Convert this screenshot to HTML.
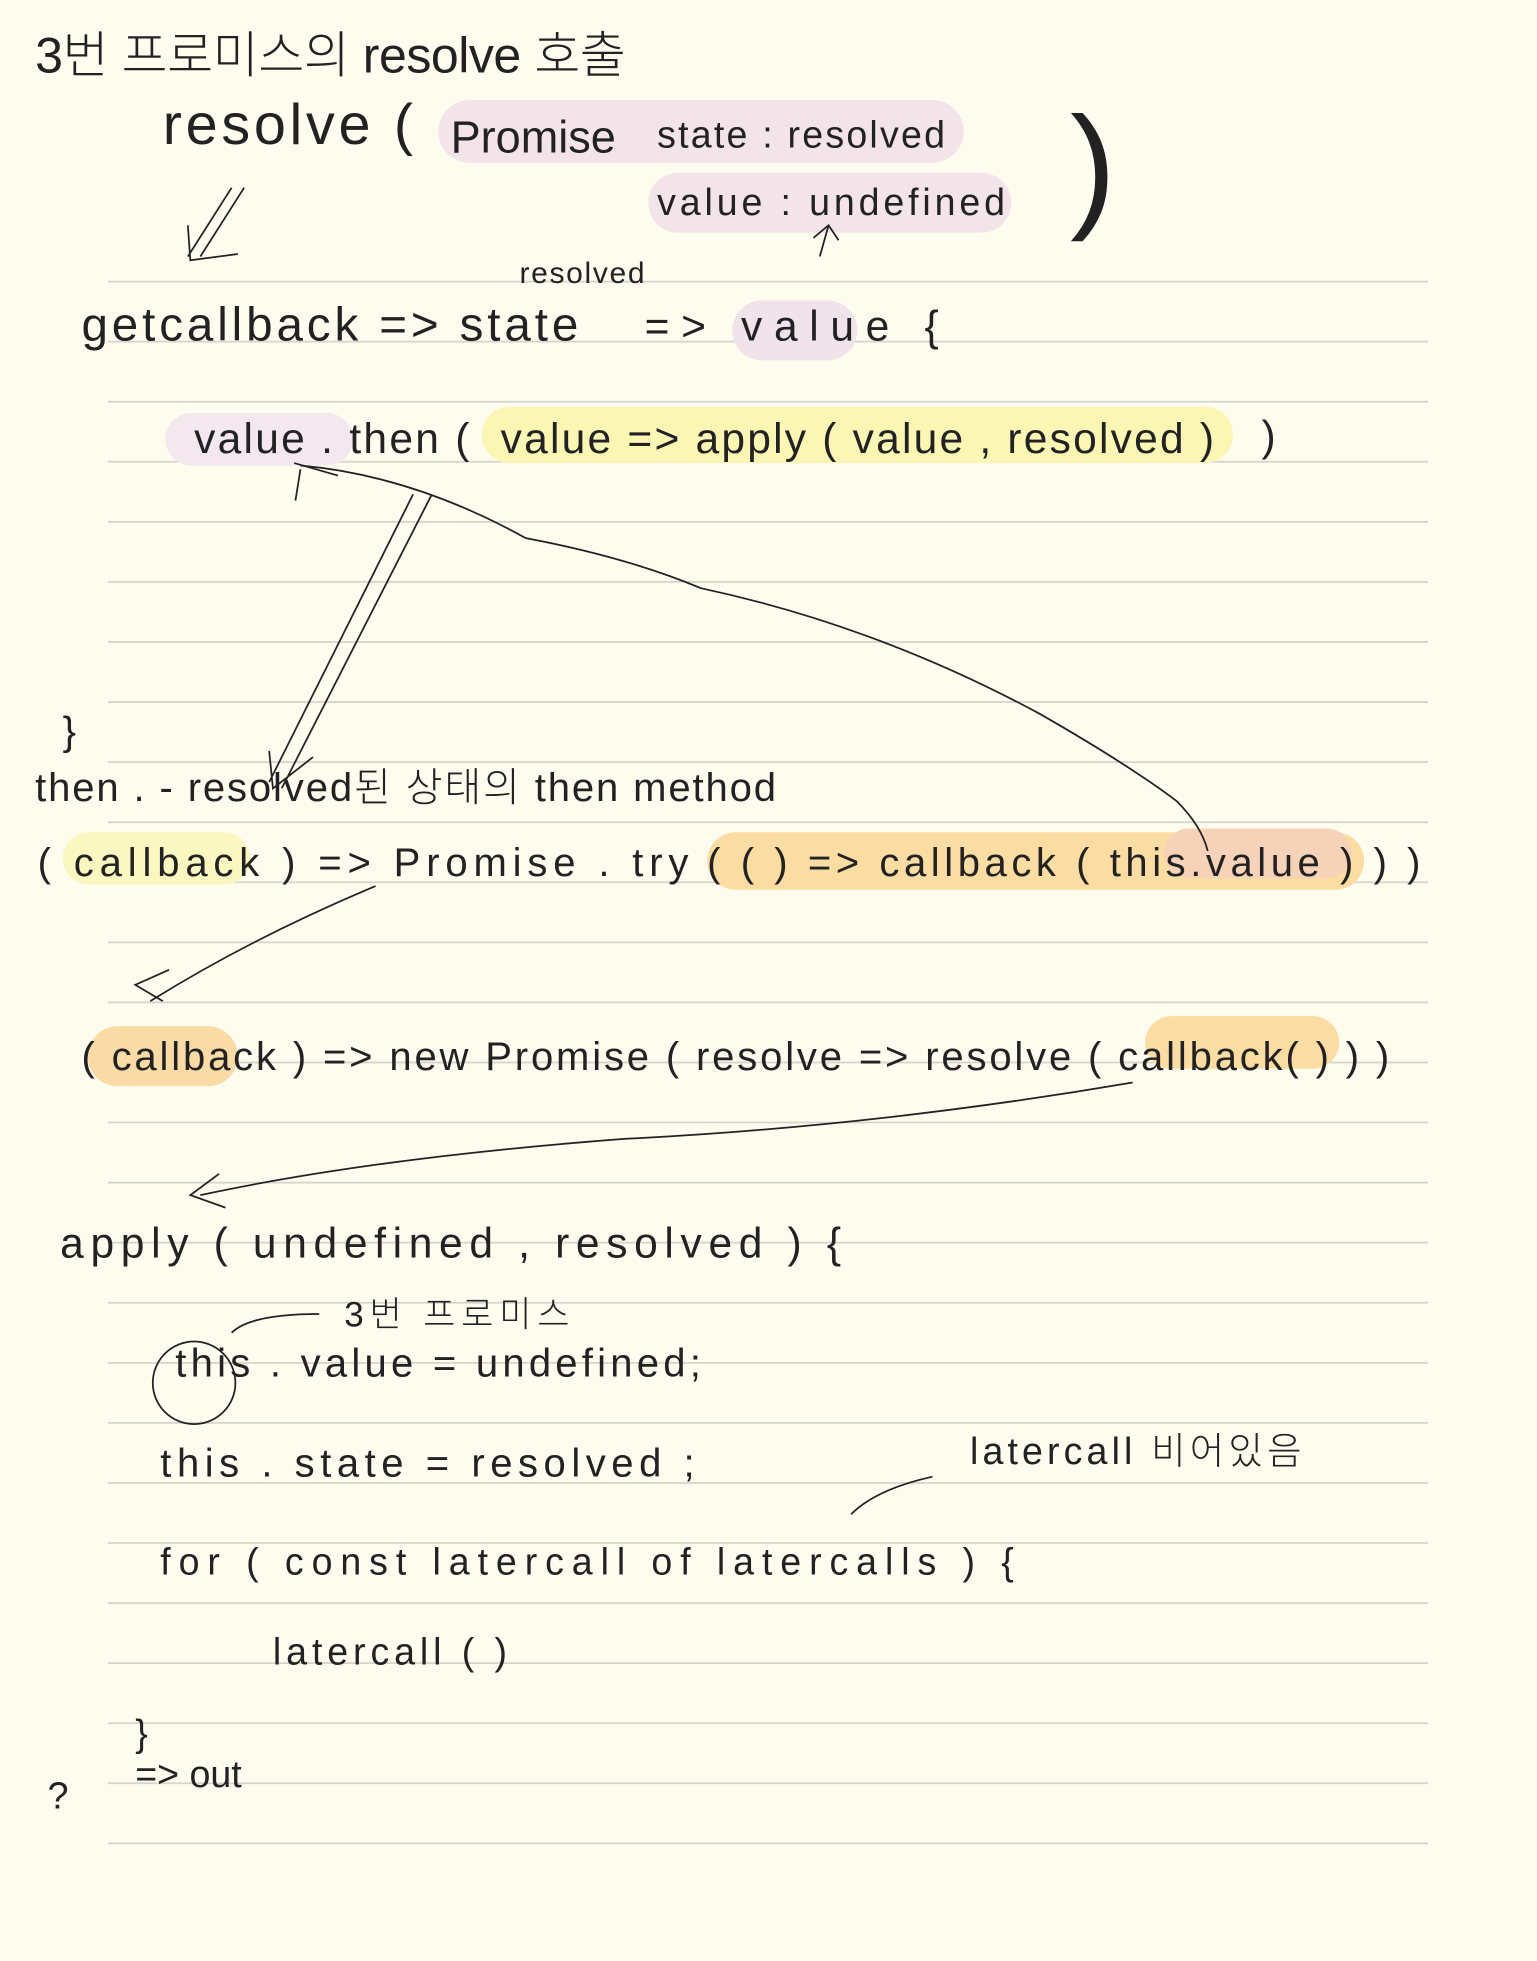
<!DOCTYPE html>
<html><head><meta charset="utf-8"><style>
html,body{margin:0;padding:0;background:#fefcef;}
svg{display:block;}
text{font-family:"Liberation Sans","Noto Sans CJK KR",sans-serif;fill:#222;font-weight:300;}
</style></head><body>
<svg width="1537" height="1961" viewBox="0 0 1228 1567" xmlns="http://www.w3.org/2000/svg">
<rect width="1228" height="1567" fill="#fefcef"/>
<g stroke="#d6d4ca" stroke-width="1.4">
<line x1="86" y1="225" x2="1141" y2="225"/><line x1="86" y1="273" x2="1141" y2="273"/>
<line x1="86" y1="321" x2="1141" y2="321"/><line x1="86" y1="369" x2="1141" y2="369"/>
<line x1="86" y1="417" x2="1141" y2="417"/><line x1="86" y1="465" x2="1141" y2="465"/>
<line x1="86" y1="513" x2="1141" y2="513"/><line x1="86" y1="561" x2="1141" y2="561"/>
<line x1="86" y1="609" x2="1141" y2="609"/><line x1="86" y1="657" x2="1141" y2="657"/>
<line x1="86" y1="705" x2="1141" y2="705"/><line x1="86" y1="753" x2="1141" y2="753"/>
<line x1="86" y1="801" x2="1141" y2="801"/><line x1="86" y1="849" x2="1141" y2="849"/>
<line x1="86" y1="897" x2="1141" y2="897"/><line x1="86" y1="945" x2="1141" y2="945"/>
<line x1="86" y1="993" x2="1141" y2="993"/><line x1="86" y1="1041" x2="1141" y2="1041"/>
<line x1="86" y1="1089" x2="1141" y2="1089"/><line x1="86" y1="1137" x2="1141" y2="1137"/>
<line x1="86" y1="1185" x2="1141" y2="1185"/><line x1="86" y1="1233" x2="1141" y2="1233"/>
<line x1="86" y1="1281" x2="1141" y2="1281"/><line x1="86" y1="1329" x2="1141" y2="1329"/>
<line x1="86" y1="1377" x2="1141" y2="1377"/><line x1="86" y1="1425" x2="1141" y2="1425"/>
<line x1="86" y1="1473" x2="1141" y2="1473"/>
</g>
<g>
<rect x="350" y="80" width="420" height="50" rx="25" fill="#f3e4ea"/>
<rect x="518" y="138" width="290" height="48" rx="24" fill="#f3e4ea"/>
<rect x="585" y="240" width="100" height="48" rx="24" fill="#f1e3ea"/>
<rect x="132" y="330" width="150" height="42" rx="21" fill="#f3e8ee"/>
<rect x="385" y="325" width="600" height="45" rx="22" fill="#fbf6b4"/>
<rect x="50" y="665" width="150" height="42" rx="21" fill="#fbf7c0"/>
<rect x="565" y="665" width="525" height="46" rx="23" fill="#fbdca2"/>
<rect x="930" y="662" width="150" height="40" rx="20" fill="#f6d3b8"/>
<rect x="70" y="820" width="120" height="48" rx="24" fill="#fbdba5"/>
<rect x="915" y="812" width="155" height="42" rx="21" fill="#fbdca2"/>
</g>
<g font-size="34" lengthAdjust="spacing">
<text x="28" y="58" font-size="40" textLength="472">3번 프로미스의 resolve 호출</text>
<text x="130" y="115" font-size="46" textLength="200">resolve (</text>
<text x="360" y="122" font-size="36">Promise</text>
<text x="525" y="118" font-size="30" textLength="230">state : resolved</text>
<text x="525" y="172" font-size="30" textLength="278">value : undefined</text>
<text x="415" y="226" font-size="24" textLength="100">resolved</text>
<text x="65" y="272" font-size="38" textLength="397">getcallback =&gt; state</text>
<text x="515" y="272" font-size="34" textLength="235">=&gt; value {</text>
<text x="155" y="362" font-size="34" textLength="220">value . then (</text>
<text x="400" y="362" font-size="34" textLength="570">value =&gt; apply ( value , resolved )</text>
<text x="1008" y="360" font-size="34">)</text>
<text x="28" y="640" font-size="32" textLength="592">then . - resolved된 상태의 then method</text>
<text x="30" y="700" font-size="32" textLength="520">( callback ) =&gt; Promise . try</text>
<text x="565" y="700" font-size="32" textLength="570">( ( ) =&gt; callback ( this.value ) ) )</text>
<text x="65" y="855" font-size="32" textLength="1045">( callback ) =&gt; new Promise ( resolve =&gt; resolve ( callback( ) ) )</text>
<text x="48" y="1005" font-size="34" textLength="624">apply ( undefined , resolved ) {</text>
<text x="275" y="1060" font-size="28" textLength="180">3번 프로미스</text>
<text x="140" y="1100" font-size="32" textLength="420">this . value = undefined;</text>
<text x="128" y="1180" font-size="32" textLength="427">this . state = resolved ;</text>
<text x="775" y="1170" font-size="30" textLength="265">latercall 비어있음</text>
<text x="128" y="1258" font-size="30" textLength="682">for ( const latercall of    latercalls ) {</text>
<text x="218" y="1330" font-size="30" textLength="187">latercall ( )</text>
<text x="108" y="1395" font-size="30">}</text>
<text x="108" y="1428" font-size="30">=&gt; out</text>
<text x="38" y="1445" font-size="30">?</text>
<text x="50" y="595" font-size="32">}</text>
<text x="855" y="170" font-size="110" font-weight="100">)</text>
</g>
<g fill="none" stroke="#222" stroke-width="1.4">
<path d="M195 150 L160 205 M185 150 L150 205 M150 180 L152 208 L190 203"/>
<path d="M655 205 L662 180 M650 190 L662 180 L670 192"/>
<path d="M236 400 L240 375 M240 372 Q330 380 420 430 Q500 445 560 470 Q700 500 830 570 Q900 610 940 640 Q960 660 965 680"/>
<path d="M235 370 L270 380"/>
<path d="M330 395 L215 625 M345 395 L225 630 M215 600 L218 630 L250 605"/>
<path d="M300 708 Q200 750 120 800 M135 775 L108 787 L130 800"/>
<path d="M905 865 Q700 900 500 910 Q300 925 160 955 M175 938 L152 955 L180 965"/>
<path d="M255 1050 Q200 1050 185 1065"/>
<circle cx="155" cy="1105" r="33"/>
<path d="M745 1180 Q700 1190 680 1210"/>
</g>
</svg>
</body></html>
